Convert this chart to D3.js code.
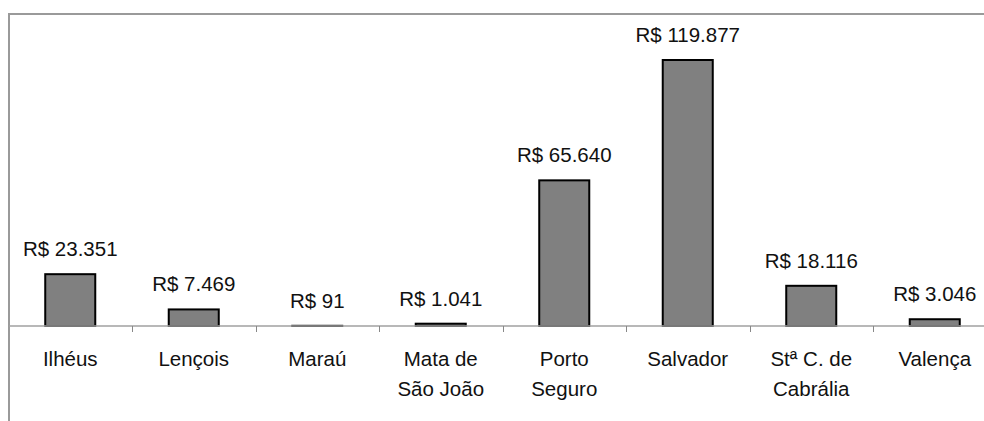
<!DOCTYPE html>
<html><head><meta charset="utf-8">
<script src="https://cdn.jsdelivr.net/npm/d3@7"></script>
<style>
html,body{margin:0;padding:0;background:#fff;}
svg{display:block;}
text{font-family:"Liberation Sans",Arial,sans-serif;fill:#111;}
</style></head>
<body>
<svg id="chart" width="984" height="421"></svg>
<script>
const categories = [["Ilhéus"],["Lençois"],["Maraú"],["Mata de","São João"],["Porto","Seguro"],["Salvador"],["Stª C. de","Cabrália"],["Valença"]];
const values = [23351, 7469, 91, 1041, 65640, 119877, 18116, 3046];
const valueLabels = ["R$ 23.351","R$ 7.469","R$ 91","R$ 1.041","R$ 65.640","R$ 119.877","R$ 18.116","R$ 3.046"];

(function(){
const svg = d3.select("#chart");
const xLeft = 8.5, xRight = 996.5, yTop = 14, base = 326;
const keys = categories.map((c,i)=>i);
const x = d3.scaleBand().domain(keys).range([xLeft,xRight]).paddingInner(0).paddingOuter(0);
const y = d3.scaleLinear().domain([0, 119877]).range([base, 60]);
const bw = x.bandwidth()*0.405;
const fs = 20.5;

// frame lines
svg.append("line").attr("x1",9).attr("x2",984).attr("y1",yTop).attr("y2",yTop)
  .attr("stroke","#9a9a9a").attr("stroke-width",2);
svg.append("line").attr("x1",9).attr("x2",9).attr("y1",yTop-1).attr("y2",421)
  .attr("stroke","#9a9a9a").attr("stroke-width",2);

// bars
svg.selectAll("rect.bar").data(values).join("rect").attr("class","bar")
  .attr("x",(d,i)=>x(i)+x.bandwidth()/2-bw/2)
  .attr("width",bw)
  .attr("y",d=>y(d))
  .attr("height",d=>base-y(d))
  .attr("fill","#808080").attr("stroke","#000").attr("stroke-width",2);

// axis line
const axis = d3.axisBottom(x).tickSize(0).tickFormat("");
const ag = svg.append("g").attr("transform",`translate(0,${base})`).call(axis);
ag.select(".domain").remove();
ag.append("line").attr("x1",9).attr("x2",984).attr("y1",0).attr("y2",0)
  .attr("stroke","#a0a0a0").attr("stroke-width",1.5);
ag.selectAll("line.tk").data(keys.slice(1)).join("line").attr("class","tk")
  .attr("x1",d=>Math.round(x(d))+0.5).attr("x2",d=>Math.round(x(d))+0.5)
  .attr("y1",0).attr("y2",6).attr("stroke","#888").attr("stroke-width",1);

// value labels
svg.selectAll("text.val").data(values).join("text").attr("class","val")
  .attr("x",(d,i)=>x(i)+x.bandwidth()/2)
  .attr("y",d=>y(d)-18)
  .attr("text-anchor","middle").attr("font-size",fs)
  .text((d,i)=>valueLabels[i]);

// category labels
const cg = svg.selectAll("text.cat").data(categories).join("text").attr("class","cat")
  .attr("x",(d,i)=>x(i)+x.bandwidth()/2)
  .attr("y",366)
  .attr("text-anchor","middle").attr("font-size",fs);
cg.selectAll("tspan").data(d=>d).join("tspan")
  .attr("x",function(){return this.parentNode.getAttribute("x");})
  .attr("dy",(d,j)=>j===0?0:30)
  .text(d=>d);
})();
</script>
</body></html>
